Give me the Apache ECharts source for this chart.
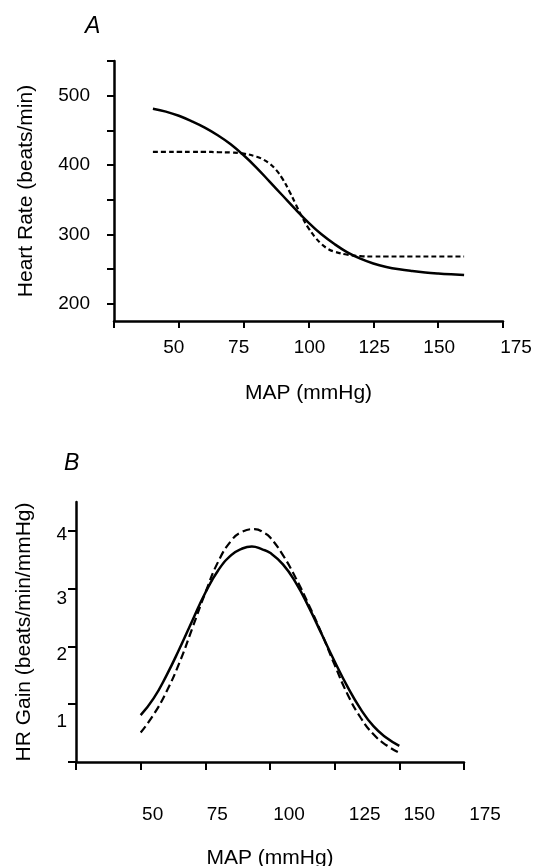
<!DOCTYPE html>
<html><head><meta charset="utf-8">
<script src="https://cdn.jsdelivr.net/npm/echarts@6/dist/echarts.min.js"></script>
<style>html,body{margin:0;padding:0;background:#fff}#c{width:540px;height:866px}</style>
</head><body><div id="c"></div>
<script>
// ---------- Panel A: Heart rate vs MAP ----------
const mapA = [40,45,50,55,60,65,70,75,80,85,90,95,100,105,110,115,120,125,130,135,140,145,150,155,160];
const hrSolid = [481,477,471,463,454,443,430,414,396,376,356,336,317,300,286,274,265,258,253,249.5,247,245,243.5,242.3,241.3];
const mapADot = [40,45,50,55,60,65,70,75,80,82.5,85,87.5,90,92.5,95,97.5,100,102.5,105,107.5,110,115,120,125,130,140,150,160];
const hrDotted = [419,419,419,419,419,418.5,418,416.5,412,408,402,393,380,363,344,325,309,296,286,279,275,270.5,268.5,268,268,268,268,268];

// ---------- Panel B: HR gain vs MAP ----------
const mapBSolid = [50,55,60,65,70,75,80,85,89,93,97,100,105,110,115,120,125,130,135,140,145,150];
const gainSolid = [0.81,1.10,1.50,1.96,2.45,2.93,3.32,3.58,3.69,3.73,3.68,3.62,3.42,3.10,2.68,2.21,1.74,1.30,0.92,0.62,0.42,0.28];
const mapBDashed = [50,55,60,65,70,75,80,85,89,94,98,100,105,110,115,120,125,130,135,140,145,150];
const gainDashed = [0.51,0.82,1.22,1.72,2.32,2.93,3.47,3.83,3.98,4.03,3.96,3.89,3.58,3.18,2.72,2.22,1.68,1.17,0.77,0.48,0.29,0.16];

// ---------- Ticks & labels ----------
const xTicks = [25,50,75,100,125,150,175];
const xTickLabels = [50,75,100,125,150,175];
const yTicksA = [200,250,300,350,400,450,500,550];
const yLabelsA = [200,300,400,500];
const yTicksB = [0,1,2,3,4];
const yLabelsB = [1,2,3,4];

// label nudges (styling, px) reproducing the hand placement of the original figure
const nudgeXA = [-5,-5,1,1,1,13];
const nudgeXB = [12,12,19,30,20,21];
const nudgeYB = [18,8,10,4];

const FF = 'Liberation Sans, Arial, sans-serif';
const BLACK = '#000';
const TICK_FS = 19;

function rich(vals, dxs, dys) {
  const r = {};
  vals.forEach((v, i) => {
    const dx = dxs ? dxs[i] : 0, dy = dys ? dys[i] : 0;
    r['t' + i] = {
      fontSize: TICK_FS, fontFamily: FF, color: BLACK,
      padding: [dy > 0 ? 2*dy : 0, dx < 0 ? -2*dx : 0, dy < 0 ? -2*dy : 0, dx > 0 ? 2*dx : 0]
    };
  });
  return r;
}
function fmt(vals) {
  return v => { const i = vals.indexOf(Number(v)); return i < 0 ? '' : '{t' + i + '|' + v + '}'; };
}
function pairs(xs, ys) { return xs.map((x, i) => [x, ys[i]]); }

const axisLine = {show: true, onZero: false, lineStyle: {color: BLACK, width: 2.5}};
const nameStyle = {fontSize: 21, color: BLACK, fontFamily: FF};
function plainLabel(vals, margin) {
  return {customValues: vals, margin: margin, fontSize: TICK_FS, fontFamily: FF, color: BLACK, hideOverlap: false};
}
function richLabel(vals, margin, dxs, dys) {
  return {customValues: vals, margin: margin, fontSize: TICK_FS, fontFamily: FF, color: BLACK,
          hideOverlap: false, formatter: fmt(vals), rich: rich(vals, dxs, dys)};
}

const chart = echarts.init(document.getElementById('c'), null, {renderer: 'canvas'});
chart.setOption({
  animation: false,
  backgroundColor: '#fff',
  textStyle: {fontFamily: FF, color: BLACK},
  title: [
    {text: 'A', left: 80, top: 10, textStyle: {fontStyle: 'italic', fontWeight: 'normal', fontSize: 23, color: BLACK, fontFamily: FF}},
    {text: 'B', left: 59, top: 447, textStyle: {fontStyle: 'italic', fontWeight: 'normal', fontSize: 23, color: BLACK, fontFamily: FF}}
  ],
  grid: [
    {left: 114, top: 61, width: 389, height: 260, containLabel: false, outerBoundsMode: 'none'},
    {left: 76, top: 502, width: 388, height: 260, containLabel: false, outerBoundsMode: 'none'}
  ],
  xAxis: [
    {
      gridIndex: 0, type: 'value', min: 25, max: 175, interval: 25,
      axisLine: axisLine,
      axisTick: {show: true, length: 7, customValues: xTicks, lineStyle: {color: BLACK, width: 2}},
      axisLabel: richLabel(xTickLabels, 17, nudgeXA),
      splitLine: {show: false},
      name: 'MAP (mmHg)', nameLocation: 'middle', nameGap: 62, nameTextStyle: nameStyle
    },
    {
      gridIndex: 1, type: 'value', min: 25, max: 175, interval: 25,
      axisLine: axisLine,
      axisTick: {show: true, length: 8, customValues: xTicks, lineStyle: {color: BLACK, width: 2}},
      axisLabel: richLabel(xTickLabels, 43, nudgeXB),
      splitLine: {show: false},
      name: 'MAP (mmHg)', nameLocation: 'middle', nameGap: 86, nameTextStyle: nameStyle
    }
  ],
  yAxis: [
    {
      gridIndex: 0, type: 'value', min: 175, max: 550,
      axisLine: axisLine,
      axisTick: {show: true, length: 7, customValues: yTicksA, lineStyle: {color: BLACK, width: 2}},
      axisLabel: plainLabel(yLabelsA, 24),
      splitLine: {show: false},
      name: 'Heart Rate (beats/min)', nameLocation: 'middle', nameGap: 77, nameTextStyle: nameStyle
    },
    {
      gridIndex: 1, type: 'value', min: 0, max: 4.5,
      axisLine: axisLine,
      axisTick: {show: true, length: 8, customValues: yTicksB, lineStyle: {color: BLACK, width: 2}},
      axisLabel: richLabel(yLabelsB, 9, null, nudgeYB),
      splitLine: {show: false},
      name: 'HR Gain (beats/min/mmHg)', nameLocation: 'middle', nameGap: 41, nameTextStyle: nameStyle
    }
  ],
  series: [
    {type: 'line', xAxisIndex: 0, yAxisIndex: 0, data: pairs(mapA, hrSolid), smooth: 0.4, showSymbol: false,
     lineStyle: {color: BLACK, width: 2.5}},
    {type: 'line', xAxisIndex: 0, yAxisIndex: 0, data: pairs(mapADot, hrDotted), smooth: 0.4, showSymbol: false,
     lineStyle: {color: BLACK, width: 2.2, type: [5, 3]}},
    {type: 'line', xAxisIndex: 1, yAxisIndex: 1, data: pairs(mapBSolid, gainSolid), smooth: 0.5, showSymbol: false,
     lineStyle: {color: BLACK, width: 2.5}},
    {type: 'line', xAxisIndex: 1, yAxisIndex: 1, data: pairs(mapBDashed, gainDashed), smooth: 0.5, showSymbol: false,
     lineStyle: {color: BLACK, width: 2.2, type: [8, 4]}}
  ]
});
</script>
</body></html>
